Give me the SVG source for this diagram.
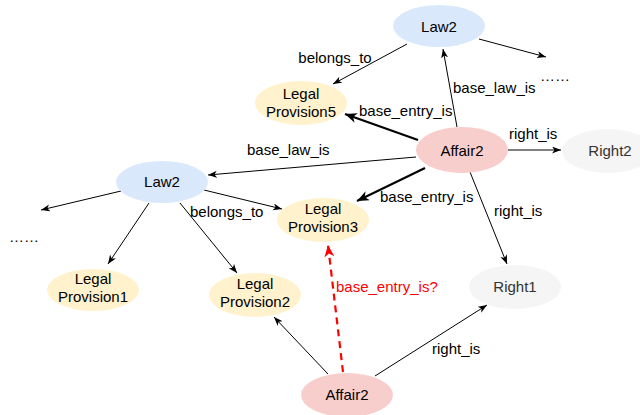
<svg xmlns="http://www.w3.org/2000/svg" width="640" height="415" viewBox="0 0 640 415">
<defs>
<style>
text{font-family:"Liberation Sans",Arial,sans-serif;font-size:15px;fill:#000}
.c{text-anchor:middle}
.law{fill:#dae8fc}
.lp{fill:#fff2cc}
.af{fill:#f8cecc}
.rt{fill:#f5f5f5}
.rtt{fill:#333333}
.thin{stroke:#000;stroke-width:1;fill:none;marker-end:url(#a)}
.thick{stroke:#000;stroke-width:2.2;fill:none;marker-end:url(#b)}
.red{stroke:#ff0000;stroke-width:2.2;fill:none;stroke-dasharray:7 5;marker-end:url(#r)}
.rl{fill:#ff0000}
</style>
<marker id="a" markerUnits="userSpaceOnUse" markerWidth="10" markerHeight="8" refX="9" refY="3.5" orient="auto"><path d="M0,0 L9,3.5 L0,7 L2.5,3.5 z" fill="#000"/></marker>
<marker id="b" markerUnits="userSpaceOnUse" markerWidth="14" markerHeight="11" refX="12" refY="5" orient="auto"><path d="M0,0 L12,5 L0,10 L3.5,5 z" fill="#000"/></marker>
<marker id="r" markerUnits="userSpaceOnUse" markerWidth="14" markerHeight="11" refX="12" refY="5" orient="auto"><path d="M0,0 L12,5 L0,10 L3.5,5 z" fill="#ff0000"/></marker>
</defs>
<rect width="640" height="415" fill="#fff"/>
<g id="connectors">
<line class="thin" x1="407" y1="44" x2="333" y2="84"/>
<line class="thin" x1="479" y1="39" x2="546" y2="57"/>
<line class="thin" x1="457" y1="127" x2="443" y2="49"/>
<line class="thick" x1="418" y1="140" x2="345" y2="114"/>
<line class="thin" x1="416" y1="157" x2="208" y2="175"/>
<line class="thick" x1="425" y1="168" x2="357" y2="201"/>
<line class="thin" x1="121" y1="191" x2="41" y2="210"/>
<line class="thin" x1="204" y1="190" x2="282" y2="209"/>
<line class="thin" x1="149" y1="203" x2="108" y2="264"/>
<line class="thin" x1="180" y1="203" x2="237" y2="273"/>
<line class="thin" x1="508" y1="150" x2="561" y2="150"/>
<line class="thin" x1="470" y1="172" x2="507" y2="264"/>
<line class="thin" x1="328" y1="374" x2="274" y2="317"/>
<line class="red" x1="343" y1="372" x2="328" y2="245"/>
<line class="thin" x1="375" y1="376" x2="487" y2="305"/>
<text class="c" x="335" y="63">belongs_to</text>
<text x="540" y="81">……</text>
<text x="453" y="93">base_law_is</text>
<text x="359" y="116">base_entry_is</text>
<text x="247" y="155">base_law_is</text>
<text x="380" y="202">base_entry_is</text>
<text x="9" y="242">……</text>
<text x="190" y="217">belongs_to</text>
<text x="509" y="139">right_is</text>
<text x="494" y="216">right_is</text>
<text class="rl" x="336" y="292">base_entry_is?</text>
<text x="432" y="354">right_is</text>
</g>
<g id="law2-top"><ellipse class="law" cx="439" cy="26" rx="46" ry="21"/><text class="c" x="439" y="32">Law2</text></g>
<g id="lp5"><ellipse class="lp" cx="301" cy="103" rx="46" ry="22"/><text class="c" x="301" y="99">Legal</text><text class="c" x="301" y="117">Provision5</text></g>
<g id="affair2-top"><ellipse class="af" cx="462" cy="150" rx="46" ry="23"/><text class="c" x="462" y="156">Affair2</text></g>
<g id="right2"><ellipse class="rt" cx="608" cy="151" rx="46" ry="22"/><text class="c rtt" x="610" y="156">Right2</text></g>
<g id="law2-left"><ellipse class="law" cx="162" cy="182" rx="46" ry="21"/><text class="c" x="162" y="187">Law2</text></g>
<g id="lp3"><ellipse class="lp" cx="323" cy="220" rx="46" ry="22"/><text class="c" x="323" y="214">Legal</text><text class="c" x="323" y="232">Provision3</text></g>
<g id="lp1"><ellipse class="lp" cx="93" cy="290" rx="46" ry="21"/><text class="c" x="93" y="284">Legal</text><text class="c" x="93" y="302">Provision1</text></g>
<g id="lp2"><ellipse class="lp" cx="255" cy="295" rx="46" ry="22"/><text class="c" x="255" y="289">Legal</text><text class="c" x="255" y="307">Provision2</text></g>
<g id="right1"><ellipse class="rt" cx="515" cy="287" rx="46" ry="22"/><text class="c rtt" x="515" y="292">Right1</text></g>
<g id="affair2-bottom"><ellipse class="af" cx="347" cy="395" rx="46" ry="22"/><text class="c" x="347" y="400">Affair2</text></g>
</svg>
